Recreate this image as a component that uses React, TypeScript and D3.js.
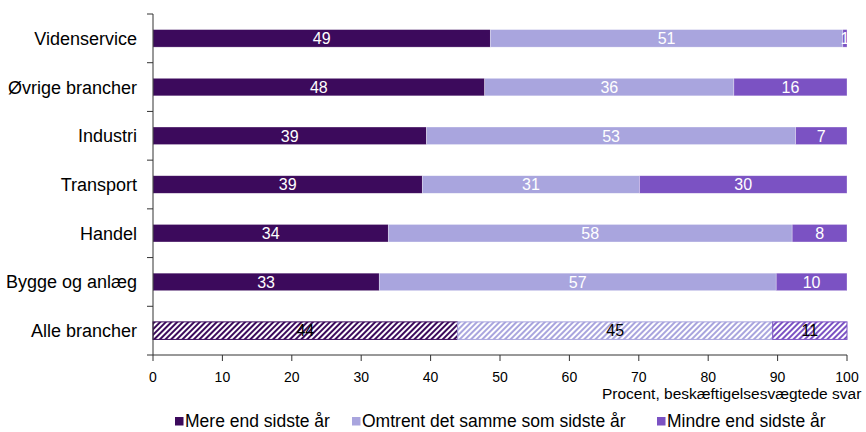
import React from "react";
import * as d3 from "d3";

const categories = ["Videnservice", "Øvrige brancher", "Industri", "Transport", "Handel", "Bygge og anlæg", "Alle brancher"];
const seriesNames = ["Mere end sidste år", "Omtrent det samme som sidste år", "Mindre end sidste år"];
const mere = [48.6, 47.8, 39.4, 38.8, 33.9, 32.6, 43.9];
const omtrent = [50.8, 35.9, 53.2, 31.3, 58.2, 57.2, 45.4];
const mindre = [0.6, 16.3, 7.4, 29.9, 7.9, 10.2, 10.7];
const xTicks = [0, 10, 20, 30, 40, 50, 60, 70, 80, 90, 100];
const colors = ["#3c0a5c", "#a9a5de", "#7b52c3"];
const axisTitle = "Procent, beskæftigelsesvægtede svar";

const W = 866, H = 432;
const FONT = "'Liberation Sans', Arial, sans-serif";

export default function App() {
  const x = d3.scaleLinear().domain([0, 100]).range([153, 847]);
  const y = d3.scaleBand<string>().domain(categories).range([14, 355]).paddingInner(0.64).paddingOuter(0.32);
  const series = [mere, omtrent, mindre];
  const rows = categories.map((c, i) => ({ cat: c, v: series.map(s => s[i]) }));
  const bw = y.bandwidth();
  const boundaries = d3.range(categories.length + 1).map(i => 14 + i * (341 / categories.length));
  const legendX = [175, 352, 657];

  return (
    <svg width={W} height={H} style={{ position: "absolute", left: 0, top: 0 }} fontFamily={FONT}>
      <defs>
        {colors.map((c, i) => (
          <pattern key={i} id={`hatch${i}`} patternUnits="userSpaceOnUse" width={4} height={4} patternTransform="rotate(45)">
            <rect width={4} height={4} fill="#fff" />
            <rect width={2} height={4} fill={c} />
          </pattern>
        ))}
      </defs>
      {rows.map((r) => {
        const total = d3.sum(r.v);
        const hatched = r.cat === "Alle brancher";
        let acc = 0;
        return (
          <g key={r.cat}>
            {r.v.map((v, si) => {
              const x0 = x((acc / total) * 100);
              acc += v;
              const x1 = x((acc / total) * 100);
              const yy = y(r.cat)!;
              return (
                <g key={si}>
                  <rect x={x0} y={yy} width={x1 - x0} height={bw}
                    fill={hatched ? `url(#hatch${si})` : colors[si]}
                    stroke={hatched ? colors[si] : "#ffffff"} strokeWidth={hatched ? 1 : 0.6} strokeOpacity={hatched ? 1 : 0.5} />
                  <text x={(x0 + x1) / 2} y={yy + bw / 2} dy="0.36em" textAnchor="middle" fontSize={16}
                    fill={hatched ? "#000" : "#fff"}>{Math.round(v)}</text>
                </g>
              );
            })}
          </g>
        );
      })}
      {/* y axis */}
      <line x1={153} x2={153} y1={14} y2={355} stroke="#333" />
      {boundaries.map((b, i) => (
        <line key={i} x1={147} x2={153} y1={b} y2={b} stroke="#333" />
      ))}
      {categories.map(c => (
        <text key={c} x={137} y={y(c)! + bw / 2} dy="0.36em" textAnchor="end" fontSize={18} fill="#000">{c}</text>
      ))}
      {/* x axis */}
      <line x1={153} x2={847} y1={355} y2={355} stroke="#333" />
      {xTicks.map(t => (
        <g key={t}>
          <line x1={x(t)} x2={x(t)} y1={355} y2={361} stroke="#333" />
          <text x={x(t)} y={377} dy="0.36em" textAnchor="middle" fontSize={14} fill="#000">{t}</text>
        </g>
      ))}
      <text x={602} y={393} dy="0.36em" fontSize={15.5} fill="#000">{axisTitle}</text>
      {/* legend */}
      {seriesNames.map((n, i) => {
        const lx = legendX[i];
        return (
          <g key={n}>
            <rect x={lx} y={417} width={8.5} height={8.5} fill={colors[i]} />
            <text x={lx + 10} y={421} dy="0.36em" fontSize={17.5} fill="#000">{n}</text>
          </g>
        );
      })}
    </svg>
  );
}
